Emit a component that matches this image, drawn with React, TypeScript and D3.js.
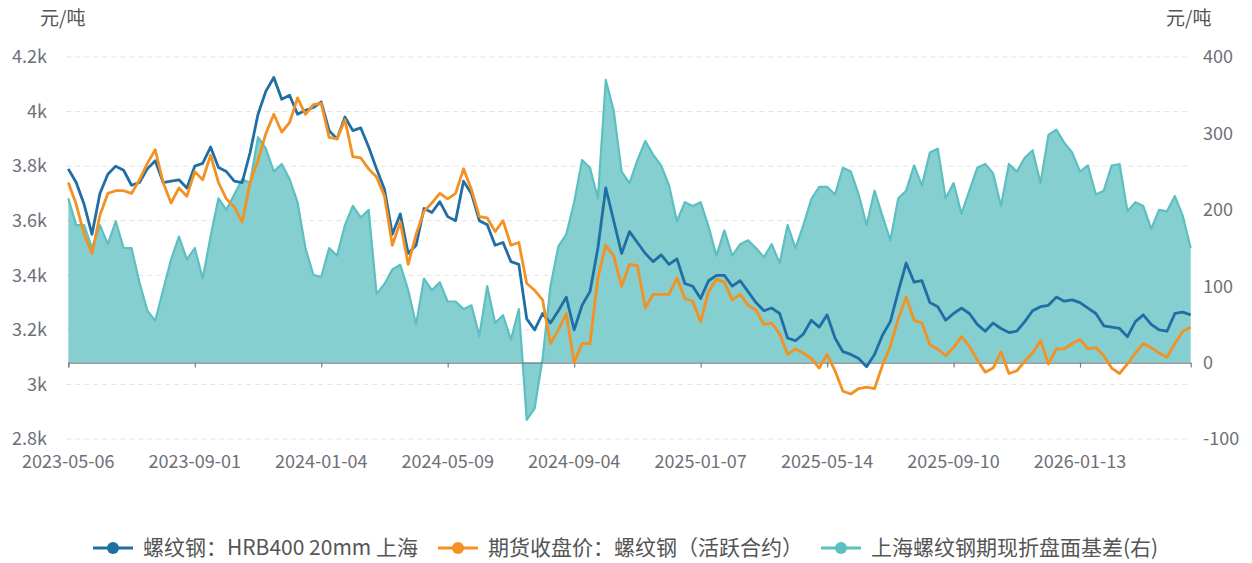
import React, { useEffect, useRef } from 'react';
import * as d3 from 'd3';

// category x axis (trading days), one date label every 16 samples
const dateLabels = [
    '2023-05-06', '2023-09-01', '2024-01-04', '2024-05-09', '2024-09-04',
    '2025-01-07', '2025-05-14', '2025-09-10', '2026-01-13',
];
const samplesPerLabel = 16;

const leftTicks = [2800, 3000, 3200, 3400, 3600, 3800, 4000, 4200];
const rightTicks = [-100, 0, 100, 200, 300, 400];

// 螺纹钢：HRB400 20mm 上海 (元/吨, left)
const spot = [
    3790, 3740, 3660, 3550, 3700, 3770, 3800, 3785, 3730, 3740,
    3790, 3820, 3740, 3745, 3750, 3720, 3800, 3810, 3870, 3795,
    3780, 3745, 3740, 3850, 3990, 4075, 4125, 4045, 4060, 3990,
    4005, 4015, 4035, 3930, 3900, 3980, 3930, 3940, 3870, 3790,
    3715, 3550, 3625, 3480, 3510, 3645, 3630, 3670, 3615, 3600,
    3745, 3700, 3600, 3585, 3510, 3520, 3450, 3440, 3240, 3200,
    3260, 3225, 3270, 3320, 3200, 3290, 3340, 3500, 3720, 3600,
    3480, 3560, 3520, 3480, 3450, 3475, 3440, 3460, 3370, 3360,
    3315, 3380, 3400, 3400, 3360, 3380, 3340, 3300, 3270, 3280,
    3260, 3170, 3160, 3185, 3235, 3210, 3255, 3170, 3120, 3110,
    3095, 3065, 3110, 3180, 3230, 3340, 3445, 3375, 3380, 3300,
    3285, 3235, 3260, 3280, 3260, 3220, 3195, 3225, 3205, 3190,
    3195, 3230, 3270, 3285, 3290, 3320, 3305, 3310, 3300, 3280,
    3260, 3215, 3210, 3205, 3175, 3230, 3255, 3220, 3200, 3195,
    3260, 3265, 3255,
];

// 期货收盘价：螺纹钢（活跃合约） (元/吨, left)
const futures = [
    3740, 3660, 3550, 3480, 3620, 3700, 3710, 3710, 3700, 3750,
    3810, 3860, 3740, 3665, 3720, 3690, 3780, 3750, 3840, 3740,
    3680, 3650, 3595, 3740, 3820, 3920, 3990, 3925, 3960, 4050,
    3990, 4025, 4030, 3905, 3900, 3970, 3835, 3830, 3790, 3760,
    3690, 3510, 3595, 3440, 3550, 3635, 3665, 3700, 3680, 3700,
    3790, 3715, 3615, 3610, 3560, 3600, 3510, 3520, 3370, 3345,
    3310, 3150, 3200, 3260, 3080, 3150, 3150, 3390, 3510, 3470,
    3360, 3440, 3435, 3280, 3330, 3330, 3330, 3390, 3315, 3305,
    3230, 3340, 3385, 3375, 3310, 3330, 3290, 3272, 3220, 3225,
    3185, 3110, 3130, 3115, 3095, 3060, 3110, 3050, 2975, 2965,
    2985, 2990, 2985, 3070, 3140, 3240, 3320, 3235, 3225, 3145,
    3130, 3105, 3135, 3175, 3140, 3090, 3045, 3060, 3120, 3040,
    3050, 3085, 3115, 3160, 3075, 3130, 3130, 3150, 3165, 3130,
    3135, 3105, 3060, 3040, 3075, 3115, 3150, 3135, 3115, 3100,
    3150, 3195, 3210,
];

// 上海螺纹钢期现折盘面基差(右) (元/吨, right)
const basis = [
    215, 180, 180, 150, 180, 155, 185, 150, 150, 105,
    68, 55, 95, 135, 165, 135, 150, 110, 165, 215,
    200, 220, 240, 235, 295, 280, 250, 260, 240, 210,
    150, 115, 112, 150, 140, 180, 205, 190, 200, 90,
    103, 122, 128, 95, 50, 110, 95, 105, 80, 80,
    70, 75, 35, 100, 52, 62, 30, 70, -75, -60,
    5, 100, 152, 168, 210, 265, 255, 215, 370, 330,
    250, 235, 265, 290, 272, 258, 232, 185, 210, 205,
    210, 178, 140, 173, 140, 155, 160, 150, 138, 155,
    130, 180, 150, 180, 214, 230, 230, 220, 255, 250,
    220, 180, 225, 192, 160, 215, 225, 258, 232, 275,
    280, 215, 235, 195, 225, 255, 260, 248, 205, 260,
    250, 268, 278, 235, 298, 305, 288, 275, 250, 258,
    220, 225, 258, 260, 198, 210, 205, 175, 200, 198,
    218, 192, 150,
];

const seriesNames = ['螺纹钢：HRB400 20mm 上海', '期货收盘价：螺纹钢（活跃合约）', '上海螺纹钢期现折盘面基差(右)'];
const colors = ['#1f6fa5', '#f39122', '#5cbfc1'];
const areaFill = '#86cfd0';

const width = 1252;
const height = 563;
const plot = { left: 68.3, right: 1190.7, top: 57, bottom: 439 };
const font = '"Noto Sans CJK SC", "Noto Sans", sans-serif';
const labelColor = '#6e7079';

export default function App() {
    const svgRef = useRef<SVGSVGElement>(null);

    useEffect(() => {
        const svg = d3.select(svgRef.current);
        svg.selectAll('*').remove();

        // scales
        const x = d3.scaleLinear().domain([0, spot.length - 1]).range([plot.left, plot.right]);
        const yLeft = d3.scaleLinear().domain([2800, 4200]).range([plot.bottom, plot.top]);
        const yRight = d3.scaleLinear().domain([-100, 400]).range([plot.bottom, plot.top]);

        // grid
        svg.append('g')
            .selectAll('line')
            .data(leftTicks)
            .join('line')
            .attr('x1', plot.left - 2)
            .attr('x2', plot.right)
            .attr('y1', d => yLeft(d))
            .attr('y2', d => yLeft(d))
            .attr('stroke', '#e3e3e3')
            .attr('stroke-dasharray', '5,4');

        // axis labels + units
        svg.append('g')
            .selectAll('text')
            .data(leftTicks)
            .join('text')
            .attr('x', 47)
            .attr('y', d => yLeft(d))
            .attr('dy', '0.35em')
            .attr('text-anchor', 'end')
            .text(d => `${d / 1000}k`);

        svg.append('g')
            .selectAll('text')
            .data(rightTicks)
            .join('text')
            .attr('x', 1203)
            .attr('y', d => yRight(d))
            .attr('dy', '0.35em')
            .text(d => d);

        svg.append('text').attr('x', 40).attr('y', 18).attr('dy', '0.35em')
            .attr('font-size', 19).attr('fill', '#555').text('元/吨');
        svg.append('text').attr('x', 1166).attr('y', 18).attr('dy', '0.35em')
            .attr('font-size', 19).attr('fill', '#555').text('元/吨');

        // basis area (right axis)
        const area = d3.area<number>()
            .x((_, i) => x(i))
            .y0(yRight(0))
            .y1(d => yRight(d));
        svg.append('path')
            .datum(basis)
            .attr('d', area)
            .attr('fill', areaFill);

        const lineRight = d3.line<number>().x((_, i) => x(i)).y(d => yRight(d));
        svg.append('path')
            .datum(basis)
            .attr('d', lineRight)
            .attr('fill', 'none')
            .attr('stroke', colors[2])
            .attr('stroke-width', 2.2)
            .attr('stroke-linejoin', 'round');

        // x axis sits on the right axis zero
        const tickIdx = dateLabels.map((_, i) => i * samplesPerLabel);
        const axis = d3.axisBottom(x)
            .tickValues(tickIdx)
            .tickSize(5)
            .tickSizeOuter(5)
            .tickFormat(() => '');
        const gx = svg.append('g')
            .attr('transform', `translate(0,${yRight(0)})`)
            .call(axis);
        gx.selectAll('path, line').attr('stroke', '#7a7d85').attr('stroke-width', 1.2);

        svg.append('g')
            .selectAll('text')
            .data(dateLabels)
            .join('text')
            .attr('x', (_, i) => x(tickIdx[i]))
            .attr('y', 462)
            .attr('dy', '0.35em')
            .attr('text-anchor', 'middle')
            .text(d => d);

        // price lines (left axis)
        const lineLeft = d3.line<number>().x((_, i) => x(i)).y(d => yLeft(d));
        [spot, futures].forEach((values, k) => {
            svg.append('path')
                .datum(values)
                .attr('d', lineLeft)
                .attr('fill', 'none')
                .attr('stroke', colors[k])
                .attr('stroke-width', 2.8)
                .attr('stroke-linejoin', 'round');
        });

        // legend
        const legendX = [113, 458, 841];
        const legend = svg.append('g').attr('transform', 'translate(0,548)');
        seriesNames.forEach((name, k) => {
            const g = legend.append('g').attr('transform', `translate(${legendX[k]},0)`);
            g.append('line').attr('x1', -20).attr('x2', 20)
                .attr('stroke', colors[k]).attr('stroke-width', 3);
            g.append('circle').attr('r', 6).attr('fill', colors[k]);
            g.append('text').attr('x', 30).attr('dy', '0.35em')
                .attr('font-size', 21).attr('fill', '#555').text(name);
        });

        svg.selectAll('text')
            .attr('font-family', font)
            .filter(function () { return !d3.select(this).attr('font-size'); })
            .attr('font-size', 18)
            .attr('fill', labelColor);
    }, []);

    return (
        <svg
            ref={svgRef}
            width={width}
            height={height}
            style={{ position: 'absolute', left: 0, top: 0, background: '#fff' }}
        />
    );
}
